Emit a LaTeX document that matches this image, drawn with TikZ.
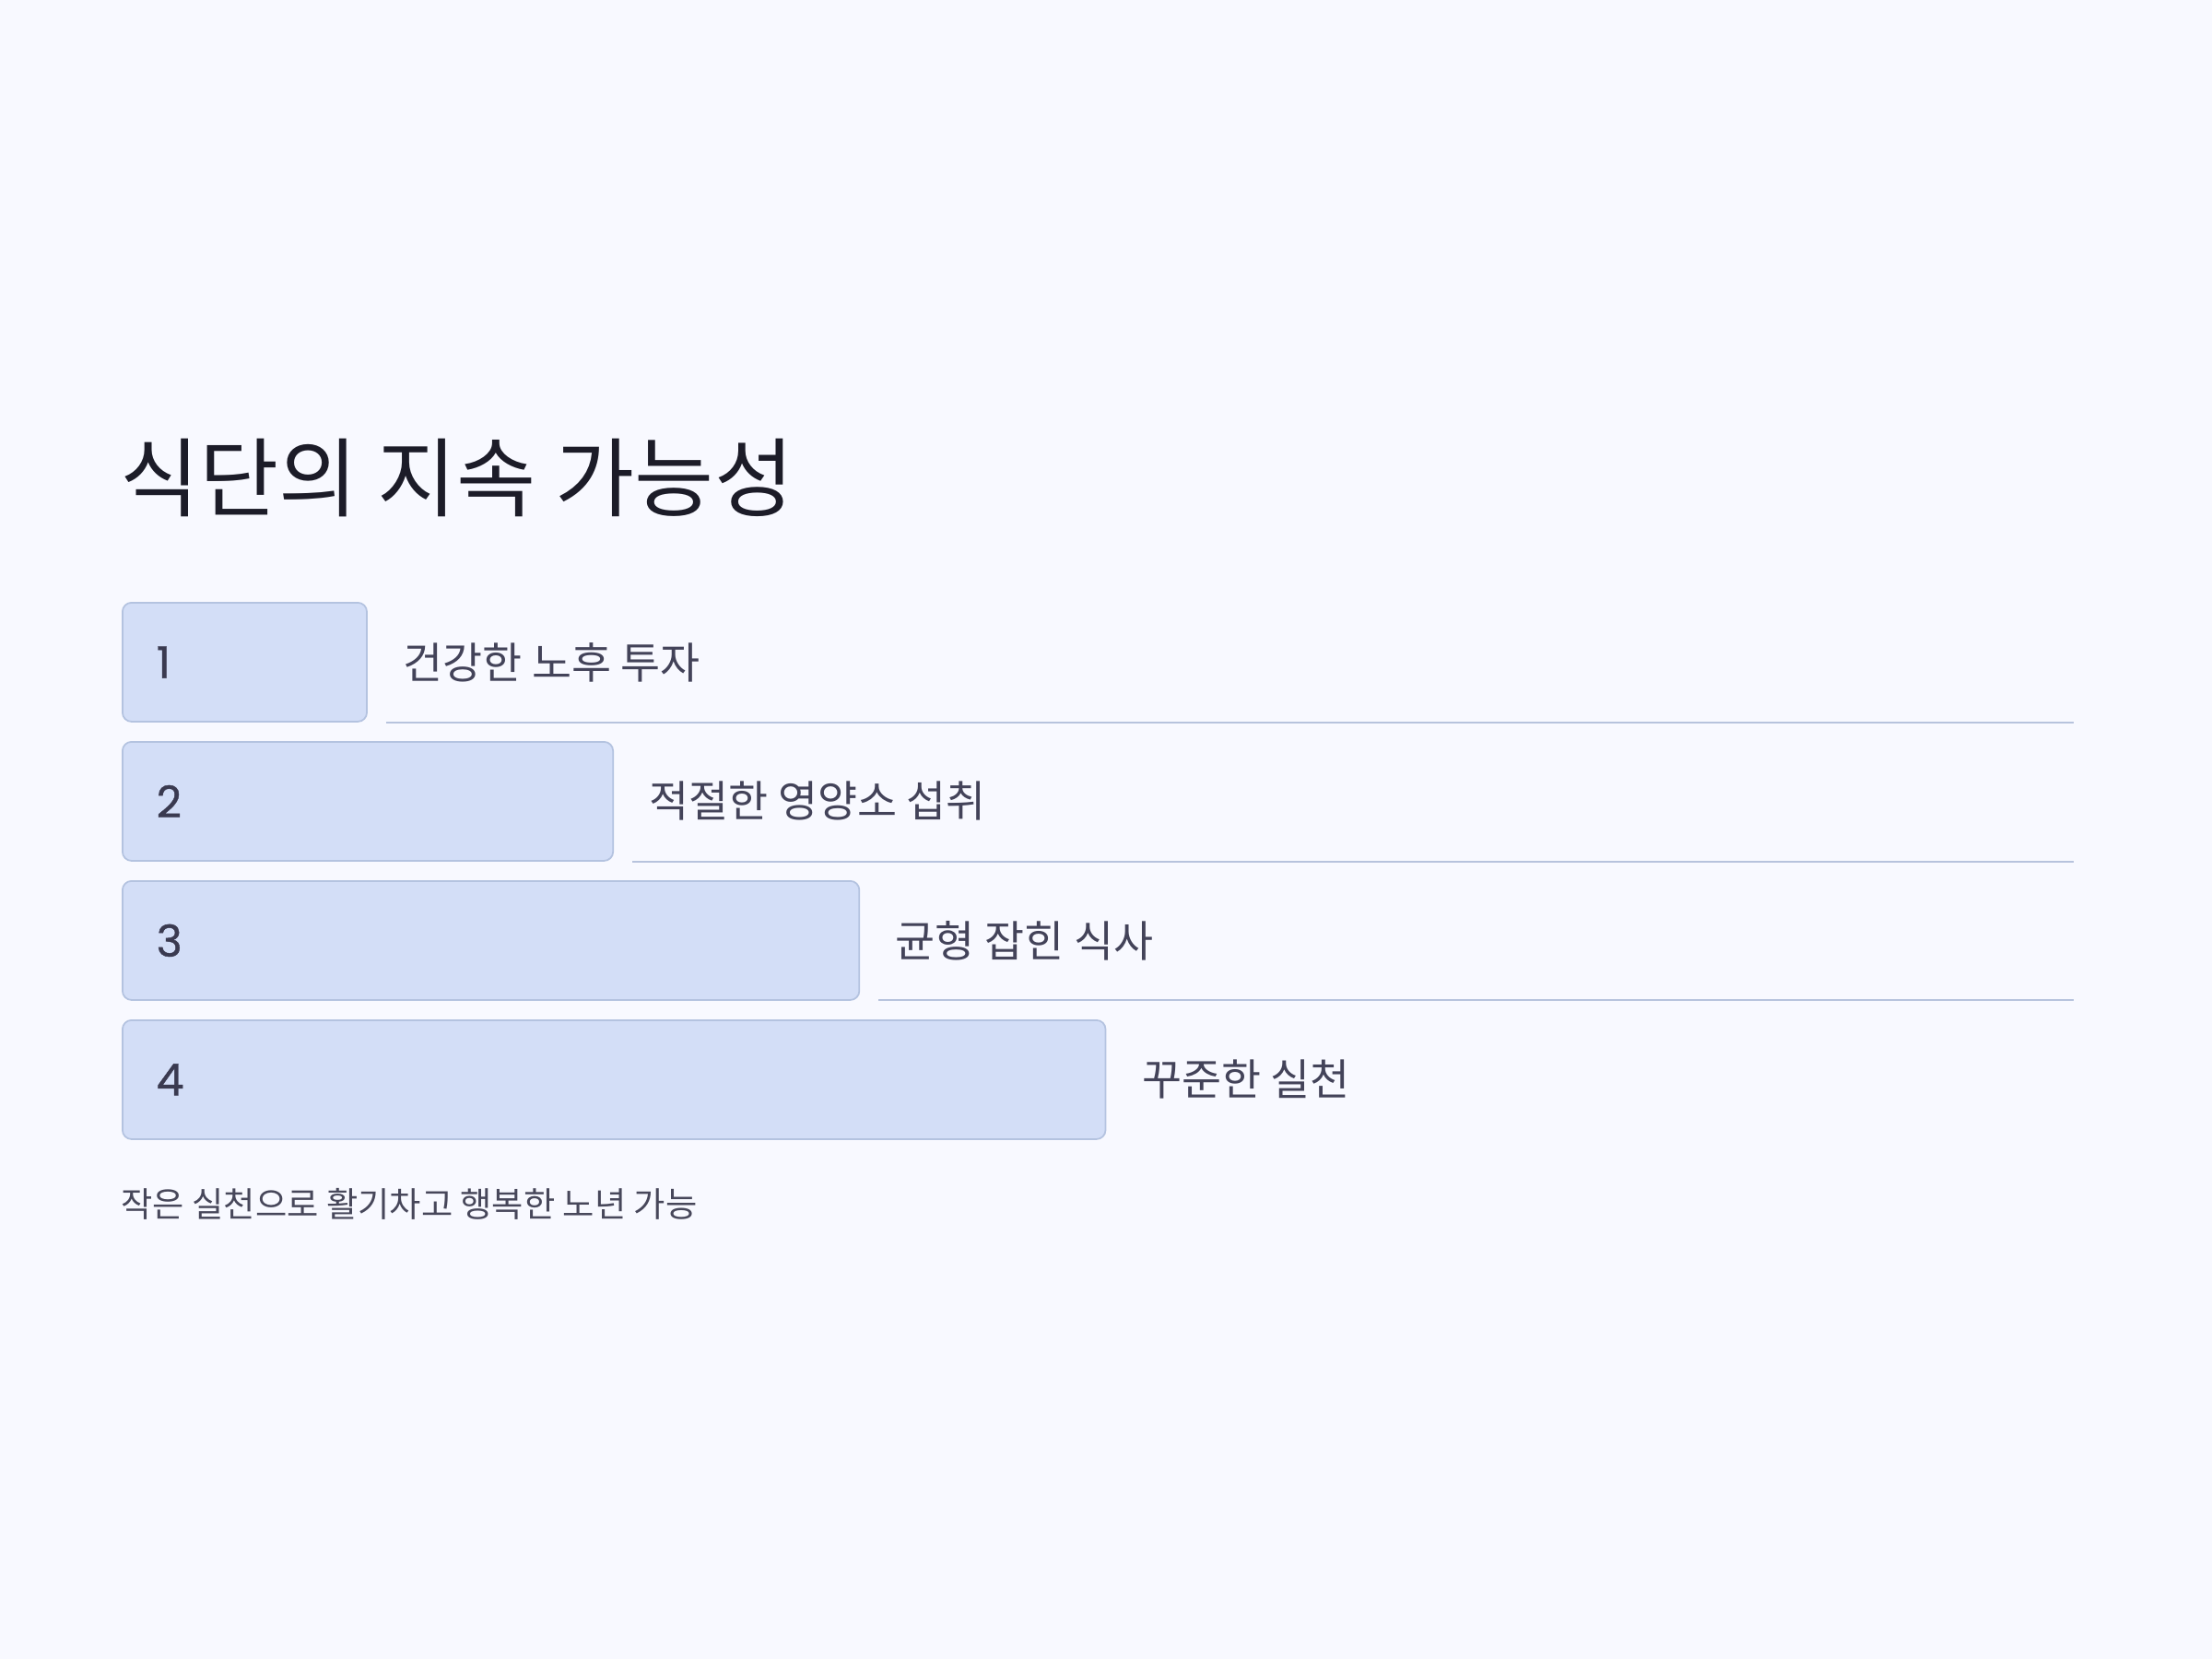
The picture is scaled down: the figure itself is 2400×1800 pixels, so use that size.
\documentclass[tikz,border=0pt]{standalone}
\usepackage{fontspec}
\setmainfont{Noto Sans CJK KR}
\newfontfamily\numfont[FakeBold=0.9]{Poppins}
\definecolor{bgc}{HTML}{F8F9FF}
\definecolor{titlec}{HTML}{1C1C28}
\definecolor{labelc}{HTML}{434359}
\definecolor{numc}{HTML}{3A3A50}
\definecolor{footc}{HTML}{47475A}
\definecolor{boxfill}{HTML}{D3DEF7}
\definecolor{boxline}{HTML}{B4C3E0}
\definecolor{rulec}{HTML}{B7C3DD}
\tikzset{
  barbox/.style={rectangle, rounded corners=2.8pt, draw=boxline, fill=boxfill, line width=0.5pt, minimum height=12.9mm, anchor=north west, inner sep=0pt},
  numtext/.style={anchor=west, inner sep=0pt, text=numc, font=\numfont\fontsize{13.5}{16}\selectfont},
  labtext/.style={anchor=west, inner sep=0pt, text=labelc, font=\fontsize{13.3}{16}\selectfont},
  ruleline/.style={draw=rulec, line width=0.6pt}
}
\begin{document}
\begin{tikzpicture}[x=0.01cm,y=-0.01cm]
\fill[bgc] (0,0) rectangle (2400,1800);
\useasboundingbox (0,0) rectangle (2400,1800);
\node[anchor=base west, inner sep=0pt, text=titlec, font=\fontsize{26.6}{31}\selectfont] (title) at (130,553) {식단의 지속 가능성};

\node[barbox, minimum width=26.5mm] (b1) at (132,653) {};
\node[barbox, minimum width=53.2mm] (b2) at (132,804) {};
\node[barbox, minimum width=79.9mm] (b3) at (132,955) {};
\node[barbox, minimum width=106.6mm] (b4) at (132,1106) {};

\foreach \i in {1,2,3,4}{
  \node[numtext] (n\i) at ([xshift=3.7mm]b\i.west) {\i};
}
\node[labtext] (l1) at ([xshift=3.8mm]b1.east) {건강한 노후 투자};
\node[labtext] (l2) at ([xshift=3.8mm]b2.east) {적절한 영양소 섭취};
\node[labtext] (l3) at ([xshift=3.8mm]b3.east) {균형 잡힌 식사};
\node[labtext] (l4) at ([xshift=3.8mm]b4.east) {꾸준한 실천};

\coordinate (e1) at (2250,784);
\coordinate (e2) at (2250,935);
\coordinate (e3) at (2250,1085);
\draw[ruleline] ([xshift=2mm]b1.south east |- e1) -- (e1);
\draw[ruleline] ([xshift=2mm]b2.south east |- e2) -- (e2);
\draw[ruleline] ([xshift=2mm]b3.south east |- e3) -- (e3);

\node[anchor=west, inner sep=0pt, text=footc, font=\fontsize{10.6}{13}\selectfont] (foot) at (131,1306) {작은 실천으로 활기차고 행복한 노년 가능};
\end{tikzpicture}
\end{document}
